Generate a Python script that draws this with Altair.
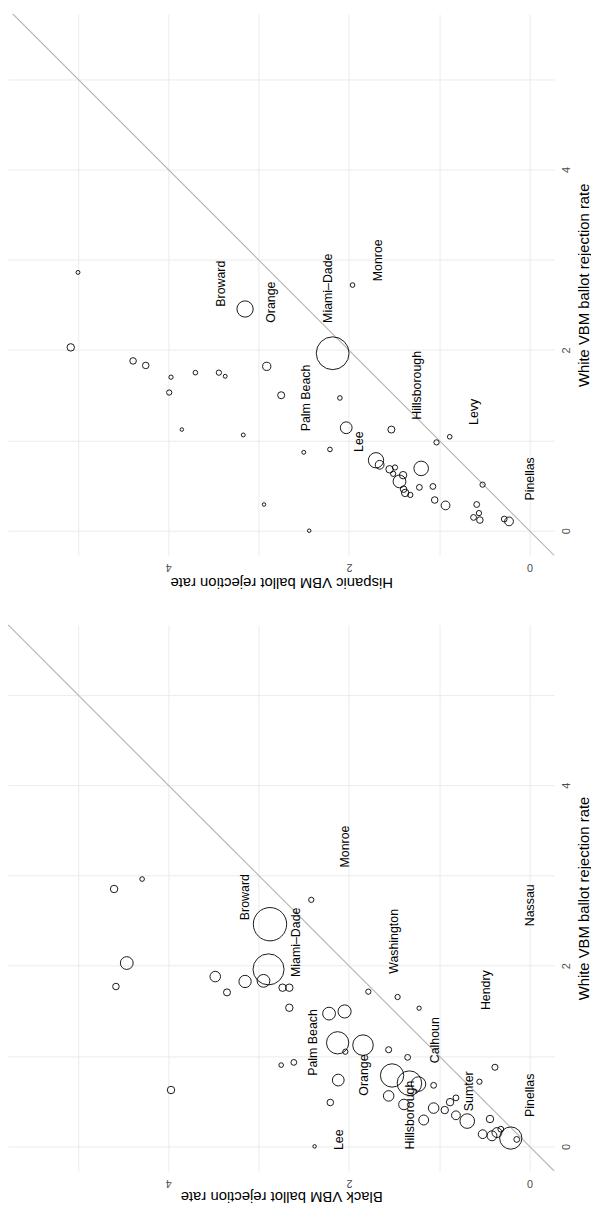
import altair as alt
import pandas as pd

# ---------- Black vs White panel ----------
b_black = [4.60, 4.29, 2.874, 2.89, 4.46, 4.58, 3.48, 3.35, 3.15, 2.946, 2.735, 2.66, 2.66,
           2.75, 2.61, 3.97, 2.417, 1.785, 1.461, 1.223, 2.22, 2.048, 2.125, 1.844, 2.04,
           1.56, 1.35, 0.383, 2.118, 1.522, 1.33, 1.23, 1.062, 0.555, 2.206, 1.56, 1.391,
           1.062, 0.939, 0.88, 0.815, 0.815, 1.172, 0.69, 0.438, 0.519, 0.416, 0.361, 0.318,
           0.208, 0.142, 2.38]
b_white = [2.85, 2.96, 2.46, 1.96, 2.03, 1.77, 1.88, 1.705, 1.826, 1.833, 1.757, 1.757, 1.535,
           0.90, 0.93, 0.624, 2.73, 1.713, 1.654, 1.53, 1.47, 1.494, 1.147, 1.121, 1.048,
           1.07, 0.986, 0.876, 0.734, 0.785, 0.70, 0.69, 0.676, 0.716, 0.486, 0.559, 0.464,
           0.424, 0.402, 0.49, 0.537, 0.344, 0.292, 0.28, 0.303, 0.135, 0.117, 0.153, 0.19,
           0.092, 0.077, 0.0]
b_ballots = [18, 7, 361, 313, 53, 14, 36, 16, 49, 53, 18, 18, 18,
             7, 11, 18, 9, 9, 9, 6, 53, 56, 161, 137, 9,
             12, 11, 12, 45, 177, 196, 69, 11, 9, 14, 36, 36,
             36, 18, 18, 11, 25, 32, 69, 18, 25, 32, 32, 11,
             161, 11, 4]

b_lab = ["Broward", "Miami–Dade", "Monroe", "Washington", "Nassau", "Hendry", "Palm Beach",
         "Calhoun", "Orange", "Sumter", "Pinellas", "Hillsborough", "Lee"]
b_lab_x = [3.15, 2.59, 2.04, 1.497, 0.0, 0.48, 2.40, 1.048, 1.83, 0.665, 0.0, 1.32, 2.107]
b_lab_y = [2.76, 2.26, 3.32, 2.27, 2.67, 1.73, 1.15, 1.176, 0.79, 0.61, 0.566, 0.347, 0.073]

# ---------- Hispanic vs White panel ----------
h_hisp = [5.0, 3.15, 5.08, 4.39, 4.25, 3.97, 3.99, 3.70, 3.44, 3.37, 2.91, 2.75, 3.85, 3.17,
          2.94, 1.96, 2.18, 2.10, 2.03, 1.53, 0.884, 1.03, 2.50, 2.21, 1.70, 1.66, 1.55,
          1.49, 1.51, 1.40, 1.44, 1.395, 1.377, 1.32, 1.20, 1.22, 1.07, 1.05, 0.93, 0.52,
          0.585, 0.56, 0.62, 0.55, 0.28, 0.227, 2.44]
h_white = [2.86, 2.455, 2.03, 1.88, 1.83, 1.70, 1.53, 1.75, 1.75, 1.71, 1.82, 1.50, 1.12, 1.06,
           0.29, 2.72, 1.965, 1.47, 1.14, 1.12, 1.04, 0.978, 0.868, 0.90, 0.78, 0.73, 0.68,
           0.70, 0.63, 0.615, 0.546, 0.46, 0.418, 0.396, 0.69, 0.48, 0.49, 0.34, 0.28, 0.51,
           0.29, 0.195, 0.147, 0.118, 0.129, 0.103, 0.0]
h_ballots = [5, 86, 18, 14, 14, 6, 9, 7, 9, 5, 22, 16, 4, 5,
             4, 7, 350, 7, 45, 16, 7, 9, 5, 7, 76, 25, 18,
             9, 9, 18, 53, 14, 18, 9, 69, 11, 11, 14, 25, 9,
             11, 9, 11, 14, 11, 25, 4]

h_lab = ["Broward", "Orange", "Miami–Dade", "Monroe", "Palm Beach", "Lee", "Hillsborough",
         "Levy", "Pinellas"]
h_lab_x = [3.42, 2.86, 2.23, 1.676, 2.47, 1.89, 1.25, 0.61, 0.0]
h_lab_y = [2.735, 2.53, 2.685, 2.994, 1.47, 0.986, 1.61, 1.315, 0.574]

diag = [-0.3, 5.8]

FONT = "Liberation Sans"
XDOM = [-0.275, 5.775]
WIDTH = 552


def panel(xv, yv, ballots, labs, lx, ly, xtitle, ydom, height, title_off):
    pts = pd.DataFrame({"xv": xv, "yv": yv, "ballots": ballots})
    txt = pd.DataFrame({"xv": lx, "yv": ly, "county": labs})
    dg = pd.DataFrame({"xv": diag, "yv": diag})

    xenc = alt.X(
        "xv:Q",
        scale=alt.Scale(domain=XDOM, reverse=True, nice=False, zero=False),
        axis=alt.Axis(
            orient="bottom", values=[0, 1, 2, 3, 4, 5], format="d",
            labelExpr="datum.value % 2 == 0 ? datum.label : ''",
            labelAngle=180, labelAlign="center", labelBaseline="middle",
            labelPadding=11, tickSize=0, ticks=False, domain=False,
            title=xtitle, titleAngle=180, titleAlign="center", titleBaseline="middle",
            titleX=WIDTH / 2, titleY=title_off,
        ),
    )
    yenc = alt.Y(
        "yv:Q",
        scale=alt.Scale(domain=ydom, nice=False, zero=False),
        axis=alt.Axis(
            orient="right", values=[0, 1, 2, 3, 4, 5], format="d",
            labelExpr="datum.value % 2 == 0 ? datum.label : ''",
            labelAngle=270, labelAlign="center", labelBaseline="middle",
            labelPadding=12, tickSize=0, ticks=False, domain=False,
            title="White VBM ballot rejection rate", titleAngle=270,
            titleAlign="center", titleBaseline="middle",
            titleX=29, titleY=height / 2,
        ),
    )

    line = alt.Chart(dg).mark_line(color="#B3B3B3", strokeWidth=1.1, clip=True).encode(x=xenc, y=yenc)
    circ = alt.Chart(pts).mark_point(
        shape="circle", filled=False, color="black", strokeWidth=0.9, opacity=1, clip=True
    ).encode(
        x="xv:Q", y="yv:Q",
        size=alt.Size("ballots:Q", scale=alt.Scale(domain=[0, 361], range=[0, 1134], zero=True), legend=None),
    )
    text = alt.Chart(txt).mark_text(
        angle=270, align="center", baseline="middle", font=FONT, fontSize=12.5, color="black"
    ).encode(x="xv:Q", y="yv:Q", text="county:N")

    return alt.layer(line, circ, text).properties(width=WIDTH, height=height)


top = panel(h_hisp, h_white, h_ballots, h_lab, h_lab_x, h_lab_y,
            "Hispanic VBM ballot rejection rate", [-0.275, 5.72], 547, 27)
bottom = panel(b_black, b_white, b_ballots, b_lab, b_lab_x, b_lab_y,
               "Black VBM ballot rejection rate", [-0.275, 5.775], 552, 25)

chart = alt.vconcat(top, bottom, spacing=36).properties(
    padding={"left": 0, "top": 0, "right": 0, "bottom": 0}
).configure_view(stroke=None).configure_axis(
    grid=True, gridColor="#EBEBEB", gridWidth=1,
    labelColor="#4D4D4D", labelFont=FONT, labelFontSize=11,
    titleColor="black", titleFont=FONT, titleFontSize=15, titleFontWeight="normal",
)

chart.save("out.html", embed_options={"renderer": "svg", "actions": False})
